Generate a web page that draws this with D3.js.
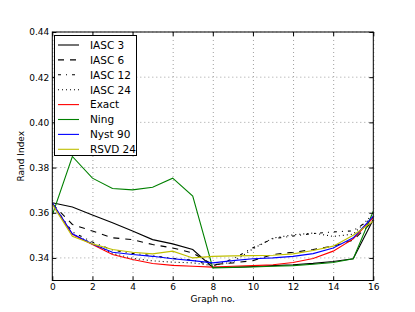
<!DOCTYPE html>
<html><head><meta charset="utf-8">
<script src="https://cdn.jsdelivr.net/npm/d3@7"></script>
<style>body{margin:0;background:#fff}svg{display:block}text{font-family:"DejaVu Sans",sans-serif}</style>
</head><body><svg id="c" width="415" height="312"></svg>
<script>
const graphs = [0,1,2,3,4,5,6,7,8,9,10,11,12,13,14,15,16];
const iasc3  = [0.3644,0.3625,0.3590,0.3556,0.3519,0.3481,0.3462,0.3437,0.3358,0.3358,0.3362,0.3366,0.3370,0.3376,0.3384,0.3396,0.3570];
const iasc6  = [0.3640,0.3548,0.3519,0.3489,0.3481,0.3459,0.3444,0.3422,0.3370,0.3378,0.3388,0.3415,0.3425,0.3437,0.3452,0.3479,0.3563];
const iasc12 = [0.3640,0.3515,0.3470,0.3435,0.3420,0.3410,0.3398,0.3390,0.3365,0.3395,0.3445,0.3485,0.3497,0.3508,0.3515,0.3520,0.3580];
const iasc24 = [0.3640,0.3505,0.3465,0.3420,0.3398,0.3387,0.3381,0.3378,0.3366,0.3382,0.3440,0.3488,0.3502,0.3510,0.3495,0.3505,0.3595];
const exact  = [0.3642,0.3504,0.3459,0.3415,0.3393,0.3375,0.3367,0.3363,0.3359,0.3363,0.3366,0.3370,0.3380,0.3397,0.3430,0.3484,0.3578];
const ning   = [0.3590,0.3849,0.3753,0.3707,0.3701,0.3713,0.3753,0.3674,0.3356,0.3358,0.3360,0.3363,0.3366,0.3372,0.3380,0.3396,0.3607];
const nyst90 = [0.3644,0.3507,0.3462,0.3425,0.3415,0.3407,0.3396,0.3388,0.3378,0.3388,0.3396,0.3400,0.3407,0.3419,0.3444,0.3489,0.3585];
const rsvd24 = [0.3637,0.3496,0.3462,0.3437,0.3425,0.3418,0.3430,0.3400,0.3407,0.3409,0.3410,0.3412,0.3418,0.3433,0.3452,0.3500,0.3563];
const seriesNames = ["IASC 3","IASC 6","IASC 12","IASC 24","Exact","Ning","Nyst 90","RSVD 24"];
const seriesVals = [iasc3,iasc6,iasc12,iasc24,exact,ning,nyst90,rsvd24];
const seriesColors = ["#000000","#000000","#000000","#000000","#ff0000","#008000","#0000ff","#bfbf00"];
const seriesDash = [null,"6,6","3,5,1,5","1,3",null,null,null,null];
const xTicks = [0,2,4,6,8,10,12,14,16];
const yTicks = [0.34,0.36,0.38,0.40,0.42,0.44];

const L=52.3,R=373.3,T=32,B=280.5;
const x=d3.scaleLinear().domain([0,16]).range([L,R]);
const y=d3.scaleLinear().domain([0.33,0.44]).range([B,T]);
const svg=d3.select("#c");

const g=svg.append("g");
g.selectAll(".gx").data(xTicks).enter().append("line")
 .attr("x1",d=>x(d)+0.5).attr("x2",d=>x(d)+0.5).attr("y1",T).attr("y2",B)
 .attr("stroke","#888").attr("stroke-width",0.8).attr("stroke-dasharray","1,3");
g.selectAll(".gy").data(yTicks).enter().append("line")
 .attr("y1",d=>y(d)).attr("y2",d=>y(d)).attr("x1",L).attr("x2",R)
 .attr("stroke","#888").attr("stroke-width",0.8).attr("stroke-dasharray","1,3");

const line=d3.line().x((d,i)=>x(graphs[i])).y(d=>y(d));
svg.append("clipPath").attr("id","cp").append("rect").attr("x",L).attr("y",T).attr("width",R-L).attr("height",B-T);
seriesVals.forEach((v,i)=>{
  svg.append("path").attr("d",line(v)).attr("fill","none")
   .attr("stroke",seriesColors[i]).attr("stroke-width",1.1)
   .attr("stroke-dasharray",seriesDash[i]).attr("clip-path","url(#cp)");
});

const ax=d3.axisBottom(x).tickValues(xTicks).tickFormat(d3.format("d")).tickSizeInner(-4).tickSizeOuter(0).tickPadding(3);
svg.append("g").attr("transform",`translate(0,${B})`).call(ax);
const ay=d3.axisLeft(y).tickValues(yTicks).tickFormat(d3.format(".2f")).tickSizeInner(-4).tickSizeOuter(0).tickPadding(3);
svg.append("g").attr("transform",`translate(${L},0)`).call(ay);
const axT=d3.axisTop(x).tickValues(xTicks).tickFormat("").tickSizeInner(-4).tickSizeOuter(0);
svg.append("g").attr("transform",`translate(0,${T})`).call(axT);
const ayR=d3.axisRight(y).tickValues(yTicks).tickFormat("").tickSizeInner(-4).tickSizeOuter(0);
svg.append("g").attr("transform",`translate(${R},0)`).call(ayR);
svg.selectAll(".domain").remove();
svg.selectAll(".tick text").attr("font-size",9).attr("fill","#000").attr("font-family","DejaVu Sans");
svg.append("rect").attr("x",L).attr("y",T).attr("width",R-L).attr("height",B-T).attr("fill","none").attr("stroke","#000").attr("stroke-width",1);

svg.append("text").attr("x",(L+R)/2).attr("y",301.5).attr("text-anchor","middle").attr("font-size",9).text("Graph no.");
svg.append("text").attr("transform",`translate(24,${(T+B)/2}) rotate(-90)`).attr("text-anchor","middle").attr("font-size",9).text("Rand Index");

const lg=svg.append("g");
lg.append("rect").attr("x",54.5).attr("y",35.5).attr("width",82).attr("height",120).attr("fill","#fff").attr("stroke","#000").attr("stroke-width",1);
seriesNames.forEach((n,i)=>{
  const yy=45+i*14.9;
  lg.append("line").attr("x1",58).attr("x2",79).attr("y1",yy).attr("y2",yy)
   .attr("stroke",seriesColors[i]).attr("stroke-width",1.1).attr("stroke-dasharray",seriesDash[i]);
  lg.append("text").attr("x",90).attr("y",yy+3.8).attr("font-size",10.5).text(n);
});
</script></body></html>
